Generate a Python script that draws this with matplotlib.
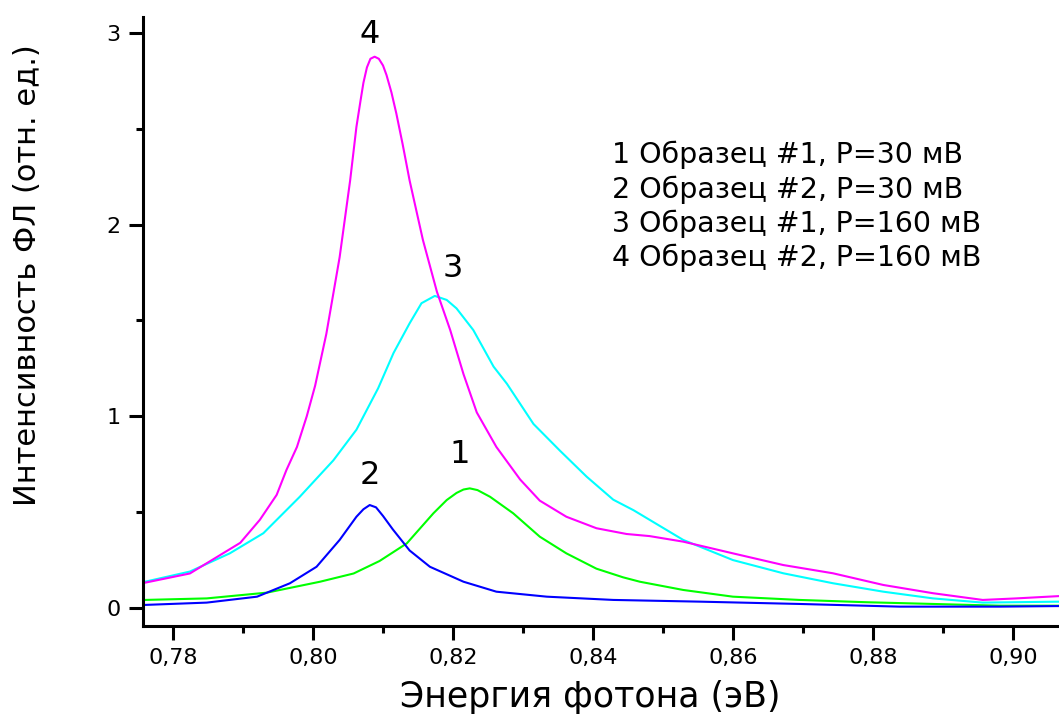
import matplotlib
matplotlib.use("Agg")
import matplotlib.pyplot as plt
from matplotlib.ticker import MultipleLocator, FuncFormatter

plt.rcParams['font.family'] = ['DejaVu Sans']

# Photoluminescence spectra: photon energy (eV) vs intensity (arb. units)
x1 = [0.776, 0.7848, 0.7934, 0.8010, 0.8058, 0.8095, 0.8134, 0.8172, 0.8191, 0.8205,
      0.8215, 0.8224, 0.8235, 0.8253, 0.8286, 0.8324, 0.8362, 0.8405, 0.8443, 0.8467,
      0.8529, 0.8600, 0.8695, 0.8791, 0.8886, 0.8981, 0.9066]
y1 = [0.042, 0.050, 0.080, 0.137, 0.180, 0.245, 0.337, 0.494, 0.563, 0.600,
      0.618, 0.624, 0.615, 0.580, 0.494, 0.372, 0.285, 0.205, 0.160, 0.137,
      0.094, 0.059, 0.042, 0.030, 0.021, 0.012, 0.012]

x2 = [0.776, 0.7848, 0.7920, 0.7967, 0.8005, 0.8038, 0.8062, 0.8072, 0.8081, 0.8090,
      0.8100, 0.8114, 0.8138, 0.8167, 0.8215, 0.8262, 0.8334, 0.8429, 0.8553, 0.8695,
      0.8838, 0.8981, 0.9066]
y2 = [0.016, 0.028, 0.059, 0.129, 0.215, 0.355, 0.476, 0.515, 0.537, 0.525,
      0.480, 0.410, 0.300, 0.215, 0.137, 0.085, 0.059, 0.042, 0.033, 0.021,
      0.007, 0.007, 0.010]

x3 = [0.776, 0.7824, 0.7881, 0.7929, 0.7981, 0.8029, 0.8062, 0.8093, 0.8115, 0.8138,
      0.8155, 0.8174, 0.8191, 0.8205, 0.8229, 0.8258, 0.8277, 0.8315, 0.8353, 0.8391,
      0.8429, 0.8458, 0.8529, 0.8600, 0.8672, 0.8743, 0.8815, 0.8886, 0.8957, 0.9066]
y3 = [0.137, 0.190, 0.285, 0.390, 0.580, 0.770, 0.930, 1.146, 1.330, 1.485,
      1.590, 1.628, 1.607, 1.563, 1.450, 1.259, 1.170, 0.960, 0.820, 0.685,
      0.565, 0.510, 0.355, 0.250, 0.181, 0.129, 0.085, 0.050, 0.028, 0.033]

x4 = [0.776, 0.7824, 0.7896, 0.7924, 0.7948, 0.7962, 0.7977, 0.7991, 0.8003, 0.8019,
      0.8038, 0.8053, 0.8062, 0.8068, 0.8072, 0.8077, 0.8082, 0.8088, 0.8094, 0.8100,
      0.8105, 0.8112, 0.8119, 0.8128, 0.8138, 0.8157, 0.8177, 0.8196, 0.8215, 0.8234,
      0.8262, 0.8296, 0.8324, 0.8362, 0.8405, 0.8448, 0.8481, 0.8529, 0.8600, 0.8672,
      0.8743, 0.8815, 0.8886, 0.8957, 0.9005, 0.9066]
y4 = [0.132, 0.180, 0.340, 0.460, 0.590, 0.720, 0.840, 1.000, 1.160, 1.430,
      1.830, 2.230, 2.510, 2.650, 2.740, 2.820, 2.865, 2.876, 2.865, 2.830,
      2.780, 2.690, 2.580, 2.420, 2.230, 1.920, 1.650, 1.450, 1.220, 1.020,
      0.840, 0.670, 0.560, 0.476, 0.416, 0.386, 0.375, 0.346, 0.285, 0.224,
      0.181, 0.120, 0.077, 0.042, 0.050, 0.062]

series = [
    (x1, y1, '#00ff00'),
    (x2, y2, '#0000ff'),
    (x3, y3, '#00ffff'),
    (x4, y4, '#ff00ff'),
]

curve_labels = ['1', '2', '3', '4']
label_pos = [(0.8210, 0.80), (0.8081, 0.69), (0.8199, 1.77), (0.8081, 2.99)]

legend_lines = [
    '1 Образец #1, P=30 мВ',
    '2 Образец #2, P=30 мВ',
    '3 Образец #1, P=160 мВ',
    '4 Образец #2, P=160 мВ',
]

fig = plt.figure(figsize=(10.59, 7.15), dpi=100)
ax = fig.add_axes([143 / 1059, 89 / 715, 1 - 143 / 1059, (626 - 17) / 715])

for xs, ys, c in series:
    ax.plot(xs, ys, color=c, lw=1.5, solid_joinstyle='round')

ax.set_xlim(0.7757, 0.9066)
ax.set_ylim(-0.094, 3.083)

for s in ['top', 'right']:
    ax.spines[s].set_visible(False)
for s in ['left', 'bottom']:
    ax.spines[s].set_linewidth(2.2)

ax.xaxis.set_major_locator(MultipleLocator(0.02))
ax.xaxis.set_minor_locator(MultipleLocator(0.01))
ax.yaxis.set_major_locator(MultipleLocator(1))
ax.yaxis.set_minor_locator(MultipleLocator(0.5))
ax.xaxis.set_major_formatter(FuncFormatter(lambda v, p: f'{v:.2f}'.replace('.', ',')))
ax.yaxis.set_major_formatter(FuncFormatter(lambda v, p: f'{v:.0f}'))

ax.tick_params(which='major', direction='out', length=10, width=2.2, labelsize=16, pad=6)
ax.tick_params(which='minor', direction='out', length=5, width=2.2)

for t, (lx, ly) in zip(curve_labels, label_pos):
    ax.text(lx, ly, t, fontsize=23, ha='center', va='center')

for i, line in enumerate(legend_lines):
    fig.text(612 / 1059, 1 - (155 + i * 34.3) / 715, line, fontsize=20.5,
             ha='left', va='center')

fig.text(590 / 1059, 1 - 697 / 715, 'Энергия фотона (эВ)', fontsize=25,
         ha='center', va='center')
fig.text(28 / 1059, 1 - 275 / 715, 'Интенсивность ФЛ (отн. ед.)', fontsize=22,
         ha='center', va='center', rotation=90)

fig.savefig('out.png', dpi=100)
